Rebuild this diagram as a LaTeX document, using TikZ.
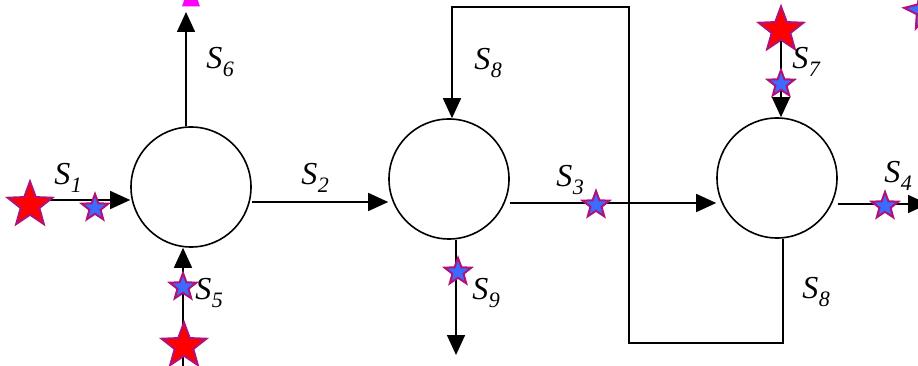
\documentclass[tikz,border=0pt]{standalone}
\usepackage{fontspec}
\setmainfont{Liberation Serif}
\usetikzlibrary{arrows.meta,shapes.geometric}
\definecolor{starred}{HTML}{FF0000}
\definecolor{starblue}{HTML}{3D6BFF}
\definecolor{starrim}{HTML}{B0127A}
\definecolor{topmag}{HTML}{FF00FF}
\newcommand{\slab}[1]{S\kern0.5pt\raisebox{-8pt}{\fontsize{22}{22}\selectfont #1}}
\begin{document}
\begin{tikzpicture}[x=1pt,y=-1pt,
  unit/.style={circle, draw, line width=1.6pt, minimum size=120pt, inner sep=0pt},
  flow/.style={line width=1.6pt, -{Triangle[length=20pt,width=18pt]}},
  pipe/.style={line width=1.6pt},
  bigstar/.style={star, star points=5, star point ratio=2.4, fill=starred, draw=starrim, line width=2pt, minimum size=47pt, inner sep=0pt},
  smallstar/.style={star, star points=5, star point ratio=2.4, fill=starblue, draw=starrim, line width=2pt, minimum size=28pt, inner sep=0pt},
  lab/.style={font=\fontsize{32}{34}\selectfont\itshape, inner sep=0pt}
]
\useasboundingbox (0,0) rectangle (918,366);
% units
\node[unit] (c1) at (191,187) {};
\node[unit] (c2) at (449,179) {};
\node[unit] (c3) at (777,178) {};
% free ends / levels
\coordinate (s1a) at (30,200);
\coordinate (s6e) at (186,12);
\coordinate (y2) at (0,202);
\coordinate (y3) at (0,203);
\coordinate (y4) at (0,204);
\coordinate (s4e) at (928,204);
\coordinate (s5a) at (183,368);
\coordinate (s7a) at (781,28);
\coordinate (s9x) at (456,0);
\coordinate (s9e) at (456,355);
\coordinate (s8x) at (783,0);
\coordinate (b1) at (783,343);
\coordinate (b2) at (629,343);
\coordinate (b3) at (629,7);
\coordinate (b4) at (452,7);
% connectors
\draw[flow] (s1a) -- (s1a -| c1.west);
\draw[flow] (c1.north -| s6e) -- (s6e);
\draw[flow] (c1.east |- y2) -- (c2.west |- y2);
\draw[flow] (c2.east |- y3) -- (c3.west |- y3);
\draw[flow] (c3.east |- y4) -- (s4e);
\draw[flow] (s5a) -- (c1.south -| s5a);
\draw[flow] (s7a) -- (c3.north -| s7a);
\draw[flow] (c2.south -| s9x) -- (s9e);
\draw[flow] (c3.south -| s8x) -- (b1) -- (b2) -- (b3) -- (b4) -- (c2.north -| b4);
% top magenta fragment
\fill[topmag] (182,6.5) -- (200,6.5) -- (197,-2) -- (185,-2) -- cycle;
% stars
\node[bigstar] (r1) at (30,205) {};
\node[smallstar] (u1) at (95,208) {};
\node[smallstar] (u5) at (183,287) {};
\node[bigstar] (r5) at (184,346) {};
\node[bigstar] (r7) at (781,30) {};
\node[smallstar] (u7) at (781,84) {};
\node[smallstar] (u3) at (596,205) {};
\node[smallstar] (u9) at (458,272) {};
\node[smallstar] (u4) at (885,206) {};
\node[smallstar, minimum size=40pt, rotate=12] (u0) at (924,10) {};
% labels
\node[lab] (l1) at (68,178) {\slab{1}};
\node[lab] (l6) at (220,62) {\slab{6}};
\node[lab] (l2) at (315,178) {\slab{2}};
\node[lab] (l3) at (570,180) {\slab{3}};
\node[lab] (l4) at (898,176) {\slab{4}};
\node[lab] (l5) at (209,293) {\slab{5}};
\node[lab] (l7) at (806,62) {\slab{7}};
\node[lab] (l8a) at (488,63) {\slab{8}};
\node[lab] (l8b) at (816,292) {\slab{8}};
\node[lab] (l9) at (486,293) {\slab{9}};
\end{tikzpicture}
\end{document}
